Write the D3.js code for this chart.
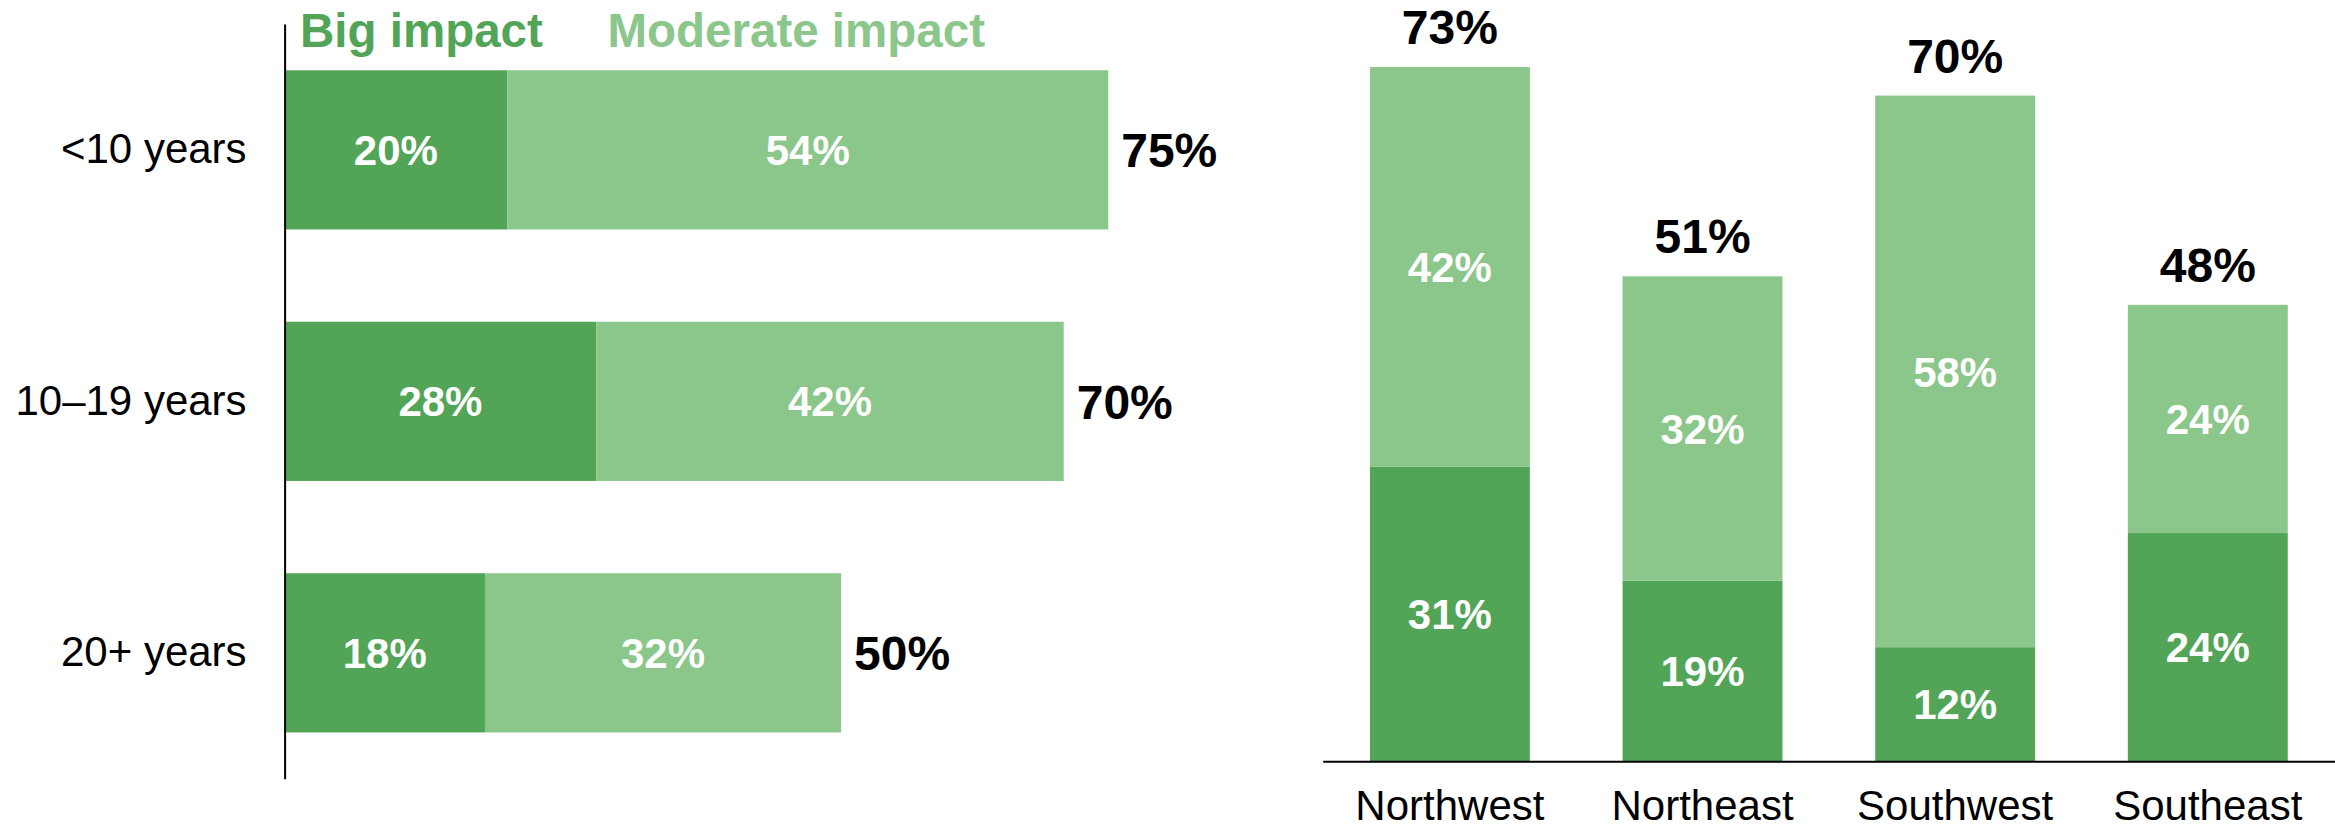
<!DOCTYPE html>
<html>
<head>
<meta charset="utf-8">
<script src="https://cdn.jsdelivr.net/npm/d3@7"></script>
<style>
  html, body { margin: 0; padding: 0; background: #fff; }
  svg { display: block; font-family: "Liberation Sans", Arial, Helvetica, sans-serif; }
</style>
</head>
<body>
<svg id="chart" width="2335" height="829"></svg>
<script>
// Share reporting a big or moderate impact, by tenure and by region
const seriesNames = ["Big impact", "Moderate impact"];
const seriesColors = ["#52a457", "#8bc68a"];

const tenureCats = ["<10 years", "10–19 years", "20+ years"];
const tenureBig = [20, 28, 18];
const tenureModerate = [54, 42, 32];
const tenureTotal = [75, 70, 50];

const regionCats = ["Northwest", "Northeast", "Southwest", "Southeast"];
const regionBig = [31, 19, 12, 24];
const regionModerate = [42, 32, 58, 24];
const regionTotal = [73, 51, 70, 48];

const svg = d3.select("#chart");

// ---------- Left panel: horizontal stacked bars ----------
const leftRows = tenureCats.map((c, i) => ({ cat: c, big: tenureBig[i], moderate: tenureModerate[i], total: tenureTotal[i] }));
const leftStack = d3.stack().keys(["big", "moderate"])(leftRows);

const yL = d3.scaleBand().domain(tenureCats).range([24, 778.7]).paddingInner(0.367).paddingOuter(0.184);
const xL = d3.scaleLinear().domain([0, 80]).range([284.6, 284.6 + 11.13 * 80]);

const gL = svg.append("g");
gL.selectAll("g.layer").data(leftStack).join("g")
  .attr("class", "layer")
  .attr("fill", (d, i) => seriesColors[i])
  .selectAll("rect").data(d => d).join("rect")
  .attr("x", d => xL(d[0]))
  .attr("width", d => xL(d[1]) - xL(d[0]))
  .attr("y", d => yL(d.data.cat))
  .attr("height", yL.bandwidth());

// segment value labels
leftStack.forEach(layer => {
  gL.selectAll(null).data(layer).join("text")
    .attr("x", d => (xL(d[0]) + xL(d[1])) / 2)
    .attr("y", d => yL(d.data.cat) + yL.bandwidth() / 2)
    .attr("dy", "0.36em")
    .attr("text-anchor", "middle")
    .attr("fill", "#fff")
    .attr("font-weight", "bold")
    .attr("font-size", 42)
    .text(d => (d[1] - d[0]) + "%");
});

// totals to the right of each bar
gL.selectAll("text.total").data(leftRows).join("text")
  .attr("class", "total")
  .attr("x", d => xL(d.big + d.moderate) + 13)
  .attr("y", d => yL(d.cat) + yL.bandwidth() / 2)
  .attr("dy", "0.36em")
  .attr("font-weight", "bold")
  .attr("font-size", 48)
  .attr("fill", "#000")
  .text(d => d.total + "%");

// category axis
const axisL = gL.append("g")
  .attr("transform", `translate(${xL(0)},0)`)
  .call(d3.axisLeft(yL).tickSize(0).tickPadding(38));
axisL.select(".domain").attr("stroke", "#000").attr("stroke-width", 2);
axisL.selectAll(".tick text")
  .attr("font-family", "\"Liberation Sans\", Arial, sans-serif")
  .attr("font-size", 42)
  .attr("fill", "#000");

// legend
const legend = svg.append("g");
const legendX = [300, 607.5];
seriesNames.forEach((name, i) => {
  legend.append("text")
    .attr("x", legendX[i])
    .attr("y", 47)
    .attr("font-weight", "bold")
    .attr("font-size", 47.5)
    .attr("fill", seriesColors[i])
    .text(name);
});

// ---------- Right panel: vertical stacked columns ----------
const rightRows = regionCats.map((c, i) => ({ cat: c, big: regionBig[i], moderate: regionModerate[i], total: regionTotal[i] }));
const rightStack = d3.stack().keys(["big", "moderate"])(rightRows);

const xR = d3.scaleBand().domain(regionCats).range([1322.7, 2335]).paddingInner(0.367).paddingOuter(0.187);
const yR = d3.scaleLinear().domain([0, 80]).range([761.3, 761.3 - 9.51 * 80]);

const gR = svg.append("g");
gR.selectAll("g.layer").data(rightStack).join("g")
  .attr("class", "layer")
  .attr("fill", (d, i) => seriesColors[i])
  .selectAll("rect").data(d => d).join("rect")
  .attr("x", d => xR(d.data.cat))
  .attr("width", xR.bandwidth())
  .attr("y", d => yR(d[1]))
  .attr("height", d => yR(d[0]) - yR(d[1]));

rightStack.forEach(layer => {
  gR.selectAll(null).data(layer).join("text")
    .attr("x", d => xR(d.data.cat) + xR.bandwidth() / 2)
    .attr("y", d => (yR(d[0]) + yR(d[1])) / 2)
    .attr("dy", "0.36em")
    .attr("text-anchor", "middle")
    .attr("fill", "#fff")
    .attr("font-weight", "bold")
    .attr("font-size", 42)
    .text(d => (d[1] - d[0]) + "%");
});

gR.selectAll("text.total").data(rightRows).join("text")
  .attr("class", "total")
  .attr("x", d => xR(d.cat) + xR.bandwidth() / 2)
  .attr("y", d => yR(d.big + d.moderate) - 23)
  .attr("text-anchor", "middle")
  .attr("font-weight", "bold")
  .attr("font-size", 48)
  .attr("fill", "#000")
  .text(d => d.total + "%");

const axisR = gR.append("g")
  .attr("transform", `translate(0,${yR(0)})`)
  .call(d3.axisBottom(xR).tickSize(0).tickPadding(29));
axisR.select(".domain").attr("stroke", "#000").attr("stroke-width", 2);
axisR.selectAll(".tick text")
  .attr("font-family", "\"Liberation Sans\", Arial, sans-serif")
  .attr("font-size", 42)
  .attr("fill", "#000");
</script>
</body>
</html>
